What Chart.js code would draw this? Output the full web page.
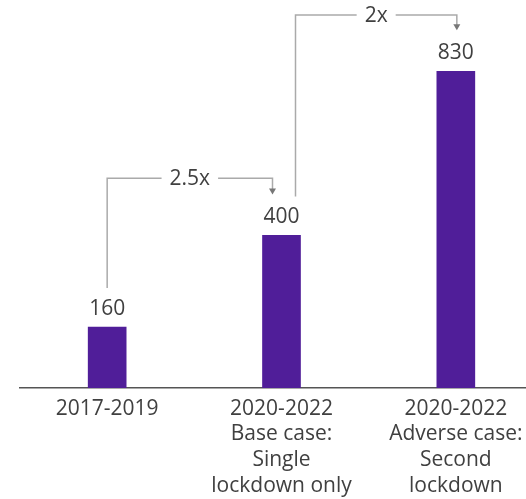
<!DOCTYPE html>
<html>
<head>
<meta charset="utf-8">
<script src="https://cdn.jsdelivr.net/npm/chart.js@4"></script>
<style>
    html, body { margin: 0; padding: 0; background: #fff; overflow: hidden; }
    #wrap { width: 526px; height: 499px; overflow: hidden; }
</style>
</head>
<body>
<div id="wrap"><canvas id="chartCanvas"></canvas></div>
<script>
// Chart data
const categories = [
    ["2017-2019"],
    ["2020-2022", "Base case:", "Single", "lockdown only"],
    ["2020-2022", "Adverse case:", "Second", "lockdown"]
];
const values = [160, 400, 830];
const valueLabels = ["160", "400", "830"];
const multipliers = ["2.5x", "2x"];
const bracketLevels = [550, 978];   // height of each bracket, in data units
const bracketPairs = [[0, 1], [1, 2]];

const textColor = '#404040';
const fontFamily = '"Open Sans", sans-serif';

// Small x-offsets of each bracket's ends from the bar centres
const bracketStyle = [
    { fromDx: 0, toDx: -9 },
    { fromDx: 14, toDx: 1 }
];

// Draws the value labels and the multiplier brackets
const annotate = {
    id: 'annotate',
    afterDatasetsDraw(chart) {
        const ctx = chart.ctx;
        const bars = chart.getDatasetMeta(0).data;
        const yScale = chart.scales.y;

        ctx.save();
        ctx.font = '21px ' + fontFamily;
        ctx.fillStyle = textColor;
        ctx.textAlign = 'center';
        ctx.textBaseline = 'alphabetic';
        bars.forEach((bar, i) => ctx.fillText(valueLabels[i], bar.x, bar.y - 12));

        bracketPairs.forEach(([from, to], i) => {
            const a = bars[from], b = bars[to];
            const x1 = a.x + bracketStyle[i].fromDx;
            const x2 = b.x + bracketStyle[i].toDx;
            const yStart = a.y - 39;
            const yTip = b.y - 41;
            const yLine = yScale.getPixelForValue(bracketLevels[i]);
            const xMid = (x1 + x2) / 2;
            const gap = ctx.measureText(multipliers[i]).width / 2 + 8;

            ctx.strokeStyle = '#aaa';
            ctx.lineWidth = 1.5;
            ctx.beginPath();
            ctx.moveTo(x1, yStart);
            ctx.lineTo(x1, yLine);
            ctx.lineTo(xMid - gap, yLine);
            ctx.moveTo(xMid + gap, yLine);
            ctx.lineTo(x2, yLine);
            ctx.lineTo(x2, yTip - 5);
            ctx.stroke();

            ctx.fillStyle = '#777';
            ctx.beginPath();
            ctx.moveTo(x2 - 3.5, yTip - 6);
            ctx.lineTo(x2 + 3.5, yTip - 6);
            ctx.lineTo(x2, yTip);
            ctx.closePath();
            ctx.fill();

            ctx.fillStyle = textColor;
            ctx.textBaseline = 'middle';
            ctx.fillText(multipliers[i], xMid, yLine + 1);
            ctx.textBaseline = 'alphabetic';
        });
        ctx.restore();
    }
};

const canvas = document.getElementById("chartCanvas");
canvas.width = 546;
canvas.height = 499;
canvas.style.width = '546px';
canvas.style.height = '499px';

const chart = new Chart(canvas.getContext("2d"), {
    type: 'bar',
    data: {
        labels: categories,
        datasets: [{
            data: values,
            backgroundColor: '#501e99',
            barThickness: 38
        }]
    },
    options: {
        responsive: false,
        animation: false,
        layout: { padding: { left: 20, right: 3, top: 6.5, bottom: 0 } },
        plugins: {
            legend: { display: false },
            tooltip: { enabled: false }
        },
        scales: {
            x: {
                grid: { display: false, drawTicks: false },
                border: { display: true, color: '#555', width: 1.5 },
                ticks: {
                    color: textColor,
                    font: { size: 21, family: fontFamily, lineHeight: 1.22 },
                    padding: 8,
                    maxRotation: 0,
                    autoSkip: false
                },
                afterFit: (scale) => { scale.height = 111; }
            },
            y: {
                display: false,
                min: 0,
                max: 1000
            }
        }
    },
    plugins: [annotate]
});
</script>
</body>
</html>
